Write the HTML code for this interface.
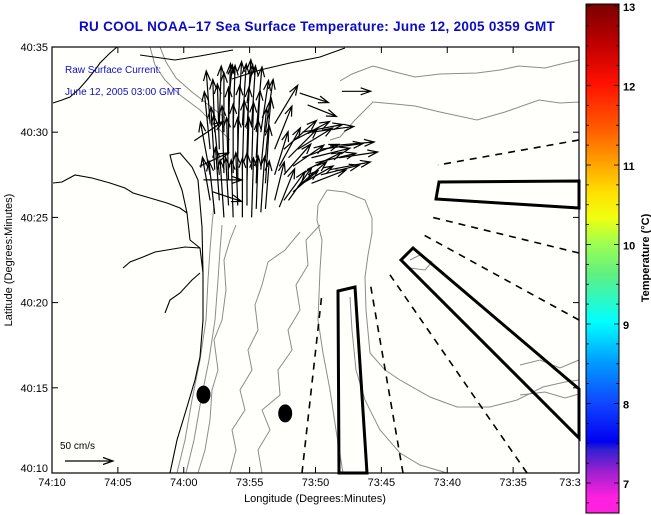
<!DOCTYPE html>
<html><head><meta charset="utf-8"><style>
html,body{margin:0;padding:0;background:#fff;}
svg{display:block;font-family:"Liberation Sans",sans-serif;}
</style></head><body>
<svg id="chart" width="651" height="515" viewBox="0 0 651 515">
<defs>
<linearGradient id="cmap" x1="0" y1="0" x2="0" y2="1">
<stop offset="0" stop-color="#7a0000"/>
<stop offset="0.08" stop-color="#c00000"/>
<stop offset="0.155" stop-color="#ff1000"/>
<stop offset="0.25" stop-color="#ff6000"/>
<stop offset="0.31" stop-color="#ffa000"/>
<stop offset="0.37" stop-color="#ffe000"/>
<stop offset="0.42" stop-color="#f0ff10"/>
<stop offset="0.47" stop-color="#a0ff50"/>
<stop offset="0.53" stop-color="#60f080"/>
<stop offset="0.625" stop-color="#00ffff"/>
<stop offset="0.70" stop-color="#00a0ff"/>
<stop offset="0.79" stop-color="#1040ff"/>
<stop offset="0.86" stop-color="#0000f0"/>
<stop offset="0.875" stop-color="#3020d0"/>
<stop offset="0.92" stop-color="#a020d0"/>
<stop offset="0.97" stop-color="#ff20e0"/>
<stop offset="1" stop-color="#ff20e0"/>
</linearGradient>
</defs>
<rect x="0" y="0" width="651" height="515" fill="#ffffff"/>
<text x="317" y="31" text-anchor="middle" font-size="13.5" font-weight="bold" letter-spacing="0.3" fill="#0a0ac8">RU COOL  NOAA–17  Sea Surface Temperature:  June 12, 2005 0359 GMT</text>
<rect x="52" y="47" width="527" height="426" fill="#fffffb"/>
<g id="map" fill="none"></g>
<g id="arrows"></g>
<rect x="52" y="47" width="527" height="426" fill="none" stroke="#000" stroke-width="1.2"/>
<g id="axes"></g>
<text x="65" y="73" font-size="10" fill="#1010c0">Raw Surface Current:</text>
<text x="65" y="95" font-size="10" fill="#1010c0">June 12, 2005 03:00 GMT</text>
<text x="60" y="449" font-size="10" fill="#000">50 cm/s</text>
<text x="315" y="502" text-anchor="middle" font-size="11">Longitude (Degrees:Minutes)</text>
<text transform="translate(12,260) rotate(-90)" text-anchor="middle" font-size="11">Latitude (Degrees:Minutes)</text>
<rect x="586" y="4" width="33" height="509" fill="url(#cmap)" stroke="#000" stroke-width="1"/>
<g id="cbar"></g>
<text transform="translate(649,258) rotate(-90)" text-anchor="middle" font-size="11" font-weight="bold">Temperature (°C)</text>
</svg>
<script>
// axes domains: lon in minutes relative to 74°00'W (positive = west), lat in minutes above 40°N
const xTickMins = [10, 5, 0, -5, -10, -15, -20, -25, -30];
const xTickLabels = ["74:10","74:05","74:00","73:55","73:50","73:45","73:40","73:35","73:3"];
const yTickMins = [35, 30, 25, 20, 15, 10];
const yTickLabels = ["40:35","40:30","40:25","40:20","40:15","40:10"];
const cbarTicks = [13, 12, 11, 10, 9, 8, 7];
// arrows: [lonMin, latMin, u (cm/s east), v (cm/s north)]
const arrowLon = [-2.0,-2.0,-2.0,-2.0,-2.7,-2.7,-2.7,-2.7,-3.4,-3.4,-3.4,-3.4,-3.4,-4.1,-4.1,-4.1,-4.1,-4.8,-4.8,-4.8,-4.8,-4.8,-5.5,-5.5,-5.5,-5.5,-6.2,-6.2,-6.2,-6.2,-6.9,-6.9,-6.9,-6.9,-7.6,-7.6,-7.6,-8.3,-8.3,-8.3,-9.0,-9.0,-9.0,-9.7,-9.7,-9.7,-10.4,-10.4,-11.1,-11.1,-11.8,-8.8,-9.4,-12.0,-1.5,-2.2,-1.2,-0.8,
  -2.35,-2.35,-2.35,-3.05,-3.05,-3.05,-3.75,-3.75,-3.75,-4.45,-4.45,-4.45,-5.15,-5.15,-5.15,-5.85,-5.85,-5.85,-7.25,-7.25,-7.95,-7.95,-8.65,-8.65,-9.35,-10.0];
const arrowLat = [26.0,27.5,29.0,30.5,26.0,27.5,29.0,30.5,25.7,27.2,28.7,30.2,31.7,25.7,27.2,28.7,30.2,25.7,27.2,28.7,30.2,31.7,25.5,27.0,28.5,30.0,25.5,27.0,28.5,30.0,26.0,27.5,29.0,30.5,26.0,27.5,29.0,26.5,28.0,29.5,27.0,28.5,30.0,27.0,28.5,30.0,27.5,29.0,27.8,29.2,28.5,32.3,31.6,32.4,27.2,26.5,28.0,29.5,
  25.2,27.8,30.0,25.0,27.6,30.0,25.0,27.6,30.2,25.0,27.8,30.4,25.0,27.8,30.4,25.3,27.8,30.0,25.6,28.0,26.0,28.5,26.8,29.0,27.8,28.2];
const arrowU = [-8,-10,-6,-4,-4,-6,-2,2,-3,-2,0,2,4,-2,0,2,4,0,2,2,4,6,2,2,4,6,4,4,6,8,10,14,18,24,22,28,34,26,32,38,32,38,42,36,40,44,40,44,42,46,40,30,30,30,40,30,30,30,
  -6,-4,-2,-4,-2,0,-2,0,2,0,2,4,2,2,4,4,6,8,16,22,24,30,30,36,36,42];
const arrowV = [45,55,60,55,55,62,68,60,50,65,70,68,40,55,65,72,70,55,65,70,72,40,55,66,70,68,50,60,62,55,40,45,45,40,30,32,30,22,22,20,18,14,8,14,10,6,10,6,8,4,6,-10,-12,0,0,-10,14,20,
  55,65,55,60,70,62,60,72,66,62,72,64,62,70,62,58,64,54,40,40,34,30,26,22,18,10];
const dotLon = [-1.5, -7.7];
const dotLat = [14.6, 13.5];

const svg = document.getElementById('chart');
const NS = 'http://www.w3.org/2000/svg';
const X0 = 52, X1 = 579, Y0 = 47, Y1 = 473;
function xs(m){ return X0 + (10 - m) / 40 * (X1 - X0); }
function ys(l){ return Y1 - (l - 10) / 25 * (Y1 - Y0); }
function cy(v){ return 6 + (13 - v) * 79.5; }
const PXPERCM = 0.96;
function mk(tag, attrs, parent){ const e = document.createElementNS(NS, tag); for (const k in attrs) e.setAttribute(k, attrs[k]); parent.appendChild(e); return e; }

const axes = document.getElementById('axes');
xTickMins.forEach((m, i) => {
  const x = xs(m);
  const t1 = mk('line', {x1:x, y1:Y1, x2:x, y2:Y1-6, stroke:'#000'}, axes);
  
  
  const t2 = mk('line', {x1:x, y1:Y0, x2:x, y2:Y0+6, stroke:'#000'}, axes);
  
  
  const tx = mk('text', {x: i===xTickMins.length-1 ? x-9 : x, y:486, 'text-anchor':'middle', 'font-size':'11'}, axes);
  tx.textContent = xTickLabels[i];
  
  
});
yTickMins.forEach((l, i) => {
  const y = ys(l);
  const t1 = mk('line', {x1:X0, y1:y, x2:X0+6, y2:y, stroke:'#000'}, axes);
  
  
  const t2 = mk('line', {x1:X1, y1:y, x2:X1-6, y2:y, stroke:'#000'}, axes);
  
  
  const tx = mk('text', {x:48, y: i===yTickMins.length-1 ? y-1 : y+4, 'text-anchor':'end', 'font-size':'11'}, axes);
  tx.textContent = yTickLabels[i];
  
  
});

const cb = document.getElementById('cbar');
for (let v = 13; v >= 6.7; v -= 0.25) {
  const y = cy(v);
  const big = Math.abs(v - Math.round(v)) < 0.01;
  mk('line', {x1:586, y1:y, x2:586+(big?5:3), y2:y, stroke:'#000', 'stroke-width':0.8}, cb);
  mk('line', {x1:619, y1:y, x2:619-(big?5:3), y2:y, stroke:'#000', 'stroke-width':0.8}, cb);
}
cbarTicks.forEach(v => {
  const t = mk('text', {x:623, y:cy(v)+5, 'font-size':'11', 'font-weight':'bold'}, cb);
  t.textContent = String(v);
  
  
});

const map = document.getElementById('map');
function pl(pts, attrs, name){ const e = mk('polyline', Object.assign({points: pts, fill:'none'}, attrs), map);   return e; }
const G = {stroke:'#8c8c8c', 'stroke-width':1};
pl("340,81 352,74 373,66 395,72 415,77 440,74 477,73 500,70 519,66 545,68 565,63 579,60", G, 'bathymetry-contour');
pl("330,140 340,137 355,120 373,102 395,104 415,106 440,112 477,120 505,112 539,100 560,103 579,102", G, 'bathymetry-contour');
pl("327,190 345,192 365,200 372,218 372,233 368,255 365,277 366,310 370,353 385,370 400,380 430,397 457,407 490,407 517,400 543,387 565,382 579,380", G, 'bathymetry-contour');
pl("327,190 318,205 317,220 322,240 320,270 318,320 323,353 330,390 336,430 343,473", G, 'bathymetry-contour');
pl("350,297 352,330 356,370 365,400 380,430 400,453 420,465 447,473", G, 'bathymetry-contour');
pl("177,473 185,440 192,400 200,360 206,320 208,280 210,250 212,225 214,205", G, 'bathymetry-contour');
pl("186,473 194,440 201,400 209,360 215,320 218,280 220,250 222,225", G, 'bathymetry-contour');
pl("198,473 205,450 210,420 212,390 218,370 214,340 222,320 226,290 224,260 230,240 236,225", G, 'bathymetry-contour');
pl("230,473 236,450 232,430 245,410 240,390 252,370 248,350 258,330 255,305 262,285 268,262 285,250 300,232", G, 'bathymetry-contour');
pl("262,473 258,450 270,430 262,410 280,395 278,370 292,350 288,330 300,310 296,285 308,265 306,240 320,225", G, 'bathymetry-contour');
pl("150,47 155,65 165,80 180,95 200,110 215,125 230,140", G, 'bathymetry-contour');
pl("160,47 166,62 176,78 192,92 210,106 225,118", G, 'bathymetry-contour');
pl("410,260 420,255 432,262 425,270 410,268", G, 'bathymetry-contour');
pl("520,365 540,360 560,368 579,360", G, 'bathymetry-contour');
pl("520,395 545,392 565,398 579,394", G, 'bathymetry-contour');
const C = {stroke:'#000', 'stroke-width':1.1};
pl("170,473 177,440 187,407 195,380 200,357 203,320 203,273 202,227 198,180 192,167 180,153 170,155 173,167 182,190 187,213 190,240 200,248 203,273", C, 'coastline');
pl("53,183 62,182 75,175 92,178 110,183 125,188 133,193 150,198 167,203 180,208 187,213", C, 'river-shoreline');
pl("123,268 130,262 143,257 155,252 167,250 185,247 200,248", C, 'river-shoreline');
pl("165,313 170,300 180,293 192,280 200,273", C, 'river-shoreline');
pl("53,103 62,100 70,97 80,88 87,80 95,70 100,63 110,53 117,47", C, 'coastline-north');
pl("140,55 175,60 200,56 233,50", C, 'coastline-north');
pl("232,79 260,70 290,63 320,57 345,48", C, 'coastline-north');
const B = {stroke:'#000', 'stroke-width':3, fill:'none'};
mk('polygon', Object.assign({points:"338,291 355,287 367,473 339,473"}, B), map);
mk('polygon', Object.assign({points:"439,182 579,181 579,208 436,199"}, B), map);
mk('polygon', Object.assign({points:"413,248 401,260 579,438 579,389"}, B), map);
const D = {stroke:'#000', 'stroke-width':1.6, 'stroke-dasharray':'7,6'};
["302,473 322,293","403,473 370,282","527,473 388,272","579,320 422,234","579,253 431,217","579,140 438,165"].forEach(p=>{
  pl(p, D, 'dashed-track');
});

dotLon.forEach((m,i)=>{
  const e = mk('ellipse', {cx:xs(m), cy:ys(dotLat[i]), rx:7, ry:9, fill:'#000'}, map);
  
  
});

const ag = document.getElementById('arrows');
function arrow(x, y, u, v, parent, name){
  const dx = u*PXPERCM, dy = -v*PXPERCM;
  const x2 = x+dx, y2 = y+dy;
  const L = Math.hypot(dx,dy) || 1;
  const ux = dx/L, uy = dy/L, h = Math.min(10, 0.3*L+3);
  const a1x = x2 - h*ux + h*0.35*uy, a1y = y2 - h*uy - h*0.35*ux;
  const a2x = x2 - h*ux - h*0.35*uy, a2y = y2 - h*uy + h*0.35*ux;
  const p = mk('path', {d:`M${x},${y}L${x2},${y2}M${a1x},${a1y}L${x2},${y2}L${a2x},${a2y}`, stroke:'#000', 'stroke-width':1.2, fill:'none'}, parent);
  
  
}
arrowLon.forEach((m,i)=>{ arrow(xs(m), ys(arrowLat[i]), arrowU[i], arrowV[i], ag, 'current-vector'); });
arrow(65, 461, 50, 0, ag, 'scale-arrow');
</script>
</body></html>
